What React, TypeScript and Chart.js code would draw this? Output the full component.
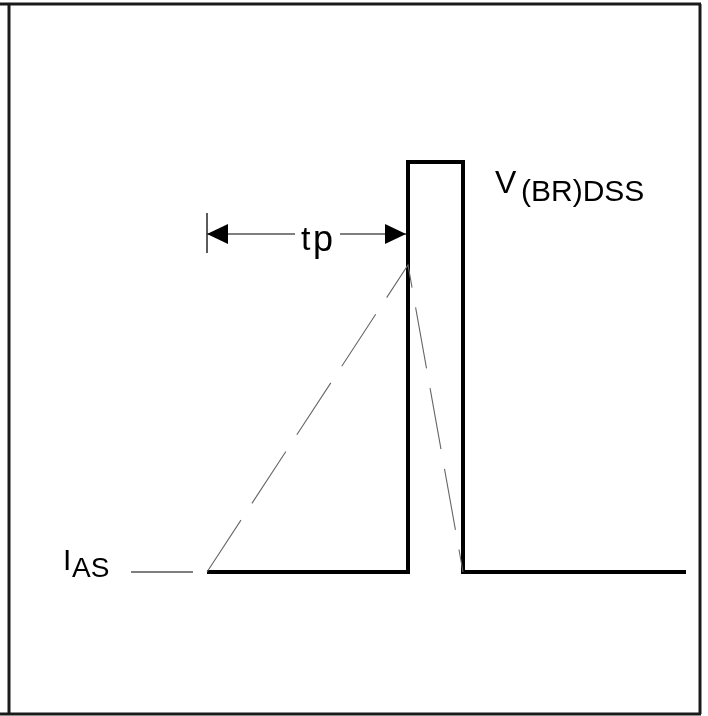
import React, { useEffect, useRef } from "react";
import { Chart, registerables } from "chart.js";
Chart.register(...registerables);

// Diagram coordinates (x: time axis units, y: level units, y grows downward)
const pulseTime = [207, 408, 408, 463, 463, 686];
const pulseLevel = [572, 572, 162, 162, 572, 572];

const currentTime = [207, 408, 463];
const currentLevel = [572, 265, 572];

const iasLeadTime = [131, 193];
const iasLeadLevel = [572, 572];

const frameTopX = [0, 701];
const frameTopY = [4, 4];
const frameLeftX = [9, 9];
const frameLeftY = [4, 714];
const frameRightX = [700, 700];
const frameRightY = [4, 714];
const frameBottomX = [0, 701];
const frameBottomY = [714, 714];

const tpTickX = [207, 207];
const tpTickY = [213, 253];
const tpArrowLeftX = [207, 295];
const tpArrowRightX = [340, 406];
const tpArrowLevel = 234;

const textLabels = ["V", "(BR)DSS", "I", "AS", "t", "p"];
const textX = [495, 521, 63, 72, 301, 313];
const textY = [193, 201, 570, 577, 250, 251];
const textSize = [32, 30, 30, 28, 34, 36];

const pts = (xs: number[], ys: number[]) => xs.map((x, i) => ({ x, y: ys[i] }));

export default function App() {
  const ref = useRef<HTMLCanvasElement>(null);
  useEffect(() => {
    document.body.style.margin = "0";
    const canvas = ref.current!;
    const labelPlugin = {
      id: "diagramLabels",
      afterDatasetsDraw(chart: any) {
        const { ctx, scales } = chart;
        const sx = scales.x, sy = scales.y;
        ctx.save();
        ctx.fillStyle = "#000";
        ctx.textBaseline = "alphabetic";
        ctx.textAlign = "left";
        textLabels.forEach((t, i) => {
          ctx.font = `${textSize[i]}px "Liberation Sans", Arial, sans-serif`;
          ctx.fillText(t, sx.getPixelForValue(textX[i]), sy.getPixelForValue(textY[i]));
        });
        // arrowheads
        const heads = [
          { tip: tpArrowLeftX[0], dir: 1 },
          { tip: tpArrowRightX[1], dir: -1 },
        ];
        heads.forEach((h) => {
          const tx = sx.getPixelForValue(h.tip);
          const ty = sy.getPixelForValue(tpArrowLevel);
          ctx.beginPath();
          ctx.moveTo(tx, ty);
          ctx.lineTo(tx + h.dir * 21, ty - 10);
          ctx.lineTo(tx + h.dir * 21, ty + 10);
          ctx.closePath();
          ctx.fill();
        });
        ctx.restore();
      },
    };
    const line = (xs: number[], ys: number[], extra: any) => ({
      data: pts(xs, ys),
      showLine: true,
      pointRadius: 0,
      borderColor: "#000",
      borderWidth: 1.2,
      clip: false,
      ...extra,
    });
    const chart = new Chart(canvas, {
      type: "scatter",
      data: {
        datasets: [
          line(frameTopX, frameTopY, { borderColor: "#1a1a1a", borderWidth: 3 }),
          line(frameLeftX, frameLeftY, { borderColor: "#1a1a1a", borderWidth: 3 }),
          line(frameRightX, frameRightY, { borderColor: "#1a1a1a", borderWidth: 3 }),
          line(frameBottomX, frameBottomY, { borderColor: "#1a1a1a", borderWidth: 3 }),
          line(currentTime, currentLevel, { borderColor: "#666", borderWidth: 1.1, borderDash: [62, 20] }),
          line(pulseTime, pulseLevel, { borderWidth: 4, borderJoinStyle: "miter", borderCapStyle: "butt" }),
          line(iasLeadTime, iasLeadLevel, { borderWidth: 1.2 }),
          line(tpTickX, tpTickY, { borderWidth: 1, borderColor: "#444" }),
          line(tpArrowLeftX, [tpArrowLevel, tpArrowLevel], { borderWidth: 1.2 }),
          line(tpArrowRightX, [tpArrowLevel, tpArrowLevel], { borderWidth: 1.2 }),
        ],
      },
      options: {
        animation: false,
        responsive: false,
        maintainAspectRatio: false,
        events: [],
        layout: { padding: 0 },
        plugins: { legend: { display: false }, tooltip: { enabled: false } },
        scales: {
          x: { type: "linear", min: 0, max: 708, display: false },
          y: { type: "linear", min: 0, max: 716, reverse: true, display: false },
        },
      },
      plugins: [labelPlugin],
    } as any);
    return () => chart.destroy();
  }, []);
  return <canvas ref={ref} width={708} height={716} style={{ display: "block" }} />;
}
